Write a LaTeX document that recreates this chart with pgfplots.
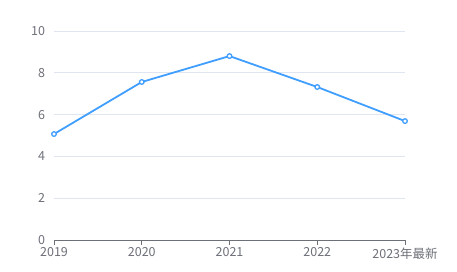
\documentclass[border=0pt]{standalone}
\usepackage{pgfplots}
\pgfplotsset{compat=1.18}
\usepackage{fontspec}
\setmainfont{Noto Sans CJK SC}
\definecolor{lineblue}{HTML}{409EFF}
\definecolor{txtgray}{HTML}{6E7079}
\definecolor{gridgray}{HTML}{E0E6F1}
\begin{document}
\begin{tikzpicture}
\useasboundingbox (-54pt,-32pt) rectangle (403pt,240pt);
\begin{axis}[
  at={(0pt,0pt)}, anchor=south west,
  scale only axis, width=351pt, height=209pt,
  xmin=0, xmax=4, ymin=0, ymax=10,
  xtick={0,1,2,3,4},
  xticklabels={2019,2020,2021,2022,2023年最新},
  ytick={0,2,4,6,8,10},
  /pgf/number format/assume math mode=true,
  tick label style={font=\fontsize{12.5}{14}\selectfont, text=txtgray},
  axis lines=left,
  x axis line style={draw=txtgray, line width=0.8pt, -},
  y axis line style={draw=none},
  ymajorgrids, grid style={draw=gridgray, line width=0.8pt},
  x tick style={draw=txtgray, line width=0.8pt},
  major tick length=5pt,
  xtick align=outside,
  ytick style={draw=none},
  xticklabel style={yshift=1pt},
  yticklabel style={xshift=-3pt},
  clip=false,
]
\addplot[lineblue, line width=1.8pt, mark=*, mark size=2.3pt,
  mark options={fill=white, draw=lineblue, line width=1.3pt}]
  coordinates {(0,5.07) (1,7.56) (2,8.80) (3,7.32) (4,5.69)};
\end{axis}
\end{tikzpicture}
\end{document}
